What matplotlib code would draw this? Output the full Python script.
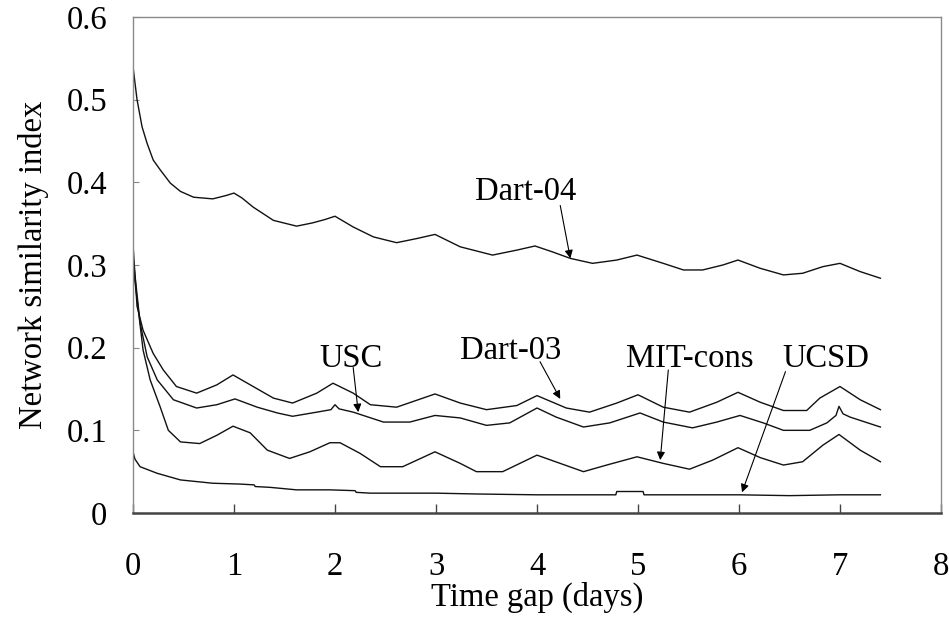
import matplotlib
matplotlib.use("Agg")
import matplotlib.pyplot as plt

plt.rcParams['font.family'] = ['Liberation Serif', 'DejaVu Serif']
plt.rcParams['font.size'] = 23.5

# ---------------- data ----------------
dart04_x = [0, 0.04, 0.09, 0.14, 0.2, 0.27, 0.37, 0.47, 0.6, 0.79, 0.92, 1.0, 1.08, 1.19,
            1.39, 1.62, 1.78, 1.9, 2.0, 2.18, 2.38, 2.61, 2.81, 2.99, 3.24, 3.56, 3.8, 3.98,
            4.15, 4.33, 4.55, 4.79, 4.99, 5.25, 5.45, 5.64, 5.84, 5.99, 6.21, 6.44, 6.63,
            6.83, 7.0, 7.2, 7.4]
dart04_y = [0.54, 0.50, 0.467, 0.447, 0.427, 0.415, 0.399, 0.389, 0.382, 0.380, 0.384, 0.387,
            0.381, 0.370, 0.354, 0.347, 0.351, 0.355, 0.359, 0.346, 0.334, 0.327, 0.332, 0.337,
            0.322, 0.312, 0.318, 0.323, 0.316, 0.308, 0.302, 0.306, 0.312, 0.302, 0.294, 0.294,
            0.300, 0.306, 0.296, 0.288, 0.290, 0.298, 0.302, 0.292, 0.284]

dart03_x = [0, 0.04, 0.1, 0.2, 0.3, 0.43, 0.63, 0.83, 0.99, 1.19, 1.39, 1.58, 1.82, 1.98,
            2.18, 2.35, 2.61, 2.99, 3.24, 3.5, 3.8, 4.0, 4.29, 4.52, 4.79, 5.0, 5.25, 5.51,
            5.78, 5.99, 6.21, 6.44, 6.67, 6.8, 7.0, 7.2, 7.4]
dart03_y = [0.325, 0.25, 0.221, 0.193, 0.173, 0.153, 0.145, 0.155, 0.167, 0.153, 0.139, 0.133,
            0.145, 0.157, 0.145, 0.131, 0.128, 0.144, 0.133, 0.125, 0.130, 0.142, 0.127, 0.122,
            0.133, 0.143, 0.128, 0.122, 0.134, 0.146, 0.134, 0.124, 0.124, 0.139, 0.153, 0.137,
            0.125]

usc_x = [0, 0.07, 0.14, 0.24, 0.4, 0.63, 0.83, 1.01, 1.23, 1.43, 1.58, 1.82, 1.96, 2.0, 2.04,
         2.18, 2.48, 2.74, 2.99, 3.24, 3.5, 3.73, 4.0, 4.19, 4.46, 4.72, 5.02, 5.25, 5.54,
         5.78, 6.01, 6.24, 6.44, 6.7, 6.87, 6.96, 6.99, 7.03, 7.1, 7.4]
usc_y = [0.31, 0.23, 0.189, 0.161, 0.137, 0.127, 0.131, 0.138, 0.128, 0.121, 0.117, 0.122,
         0.125, 0.131, 0.126, 0.122, 0.110, 0.110, 0.118, 0.115, 0.106, 0.109, 0.127, 0.116,
         0.104, 0.109, 0.121, 0.110, 0.103, 0.110, 0.118, 0.109, 0.100, 0.100, 0.109, 0.118,
         0.129, 0.120, 0.116, 0.104]

mit_x = [0, 0.1, 0.17, 0.27, 0.35, 0.47, 0.66, 0.83, 0.99, 1.16, 1.33, 1.55, 1.75, 1.95, 2.05,
         2.25, 2.45, 2.67, 2.99, 3.24, 3.4, 3.66, 4.0, 4.23, 4.46, 4.69, 4.99, 5.25, 5.51,
         5.74, 5.99, 6.21, 6.44, 6.63, 6.83, 6.99, 7.2, 7.4]
mit_y = [0.30, 0.197, 0.161, 0.128, 0.100, 0.086, 0.084, 0.094, 0.105, 0.097, 0.076, 0.066,
         0.074, 0.085, 0.085, 0.072, 0.056, 0.056, 0.074, 0.060, 0.050, 0.050, 0.070, 0.060,
         0.050, 0.058, 0.068, 0.060, 0.053, 0.064, 0.079, 0.067, 0.058, 0.062, 0.082, 0.095,
         0.076, 0.062]

ucsd_x = [0, 0.02, 0.07, 0.24, 0.47, 0.79, 1.06, 1.2, 1.21, 1.36, 1.62, 1.95, 2.2, 2.21, 2.35,
          3.0, 3.4, 4.0, 4.78, 4.79, 5.05, 5.06, 5.5, 6.0, 6.5, 7.0, 7.4]
ucsd_y = [0.074, 0.065, 0.056, 0.048, 0.040, 0.036, 0.035, 0.034, 0.032, 0.031, 0.028, 0.028,
          0.027, 0.025, 0.024, 0.024, 0.023, 0.022, 0.022, 0.026, 0.026, 0.022, 0.022, 0.022,
          0.021, 0.022, 0.022]

series_names = ["Dart-04", "Dart-03", "USC", "MIT-cons", "UCSD"]
label_pos = [(3.89, 0.379), (3.74, 0.186), (2.16, 0.177), (5.51, 0.177), (6.86, 0.177)]
arrow_start = [(4.23, 0.372), (4.03, 0.183), (2.18, 0.176), (5.30, 0.173), (6.46, 0.171)]
arrow_tip = [(4.33, 0.308), (4.23, 0.138), (2.23, 0.122), (5.22, 0.064), (6.03, 0.025)]

x_ticks = [0, 1, 2, 3, 4, 5, 6, 7, 8]
y_ticks = [0, 0.1, 0.2, 0.3, 0.4, 0.5, 0.6]
y_tick_labels = ["0", "0.1", "0.2", "0.3", "0.4", "0.5", "0.6"]

# ---------------- figure ----------------
W, H = 949, 618
fig = plt.figure(figsize=(W / 100, H / 100), dpi=100)
ax = fig.add_axes([133 / W, (H - 513) / H, (941 - 133) / W, (513 - 17) / H])

line_kw = dict(color="#111111", lw=1.0)
for xs, ys in [(dart04_x, dart04_y), (dart03_x, dart03_y), (usc_x, usc_y),
               (mit_x, mit_y), (ucsd_x, ucsd_y)]:
    ax.plot(xs, ys, **line_kw)

for name, (tx, ty), s, t in zip(series_names, label_pos, arrow_start, arrow_tip):
    ax.text(tx, ty, name, ha="center", va="baseline", fontsize=23.5)
    ax.annotate("", xy=t, xytext=s,
                arrowprops=dict(arrowstyle="-|>", color="black", lw=0.8,
                                shrinkA=0, shrinkB=0, mutation_scale=12))

ax.set_xlim(0, 8)
ax.set_ylim(0, 0.6)
ax.set_xticks(x_ticks)
ax.set_xticklabels([str(v) for v in x_ticks])
ax.set_yticks(y_ticks)
ax.set_yticklabels(y_tick_labels)

ax.tick_params(axis="x", direction="in", length=6.5, width=1.0, color="#444444", pad=28)
ax.tick_params(axis="y", direction="in", length=4.3, width=0.8, color="#888888", pad=18.5)

for side in ["left", "top", "right"]:
    ax.spines[side].set_color("#8a8a8a")
    ax.spines[side].set_linewidth(1.0)
ax.spines["bottom"].set_color("#444444")
ax.spines["bottom"].set_linewidth(1.8)

ax.set_xlabel("Time gap (days)")
ax.set_ylabel("Network similarity index")
ax.xaxis.set_label_coords(0.5, -0.139)
ax.yaxis.set_label_coords(-0.104, 0.5)

fig.savefig("out.png", dpi=100)
